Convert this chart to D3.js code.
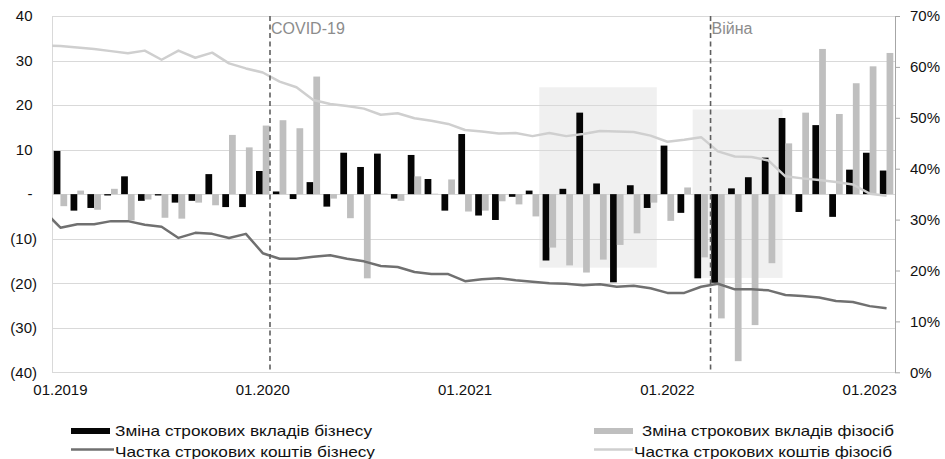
<!DOCTYPE html>
<html>
<head>
<meta charset="utf-8">
<script src="https://cdn.jsdelivr.net/npm/d3@7"></script>
<style>
  body { margin: 0; background: #fff; }
  svg { display: block; }
  text { font-family: "Liberation Sans", Arial, sans-serif; }
</style>
</head>
<body>
<svg id="chart" width="945" height="459"></svg>
<script>
// ---------------- DATA ----------------
const months = [
  "01.2019","02.2019","03.2019","04.2019","05.2019","06.2019","07.2019","08.2019","09.2019","10.2019","11.2019","12.2019",
  "01.2020","02.2020","03.2020","04.2020","05.2020","06.2020","07.2020","08.2020","09.2020","10.2020","11.2020","12.2020",
  "01.2021","02.2021","03.2021","04.2021","05.2021","06.2021","07.2021","08.2021","09.2021","10.2021","11.2021","12.2021",
  "01.2022","02.2022","03.2022","04.2022","05.2022","06.2022","07.2022","08.2022","09.2022","10.2022","11.2022","12.2022",
  "01.2023","02.2023"
];

// Зміна строкових вкладів бізнесу (left axis)
const bizChange = [
  9.7, -3.7, -3.1, -0.3, 4.0, -1.5, -0.3, -1.9, -1.5, 4.5, -2.9, -2.9,
  5.2, 0.6, -1.1, 2.7, -2.8, 9.3, 6.1, 9.1, -1.0, 8.8, 3.4, -3.7,
  13.5, -4.8, -5.8, -0.6, 0.8, -14.9, 1.2, 18.3, 2.4, -19.8, 2.0, -3.1,
  10.9, -4.2, -18.9, -19.9, 1.3, 3.8, 8.2, 17.1, -4.0, 15.5, -5.1, 5.5,
  9.3, 5.3
];

// Зміна строкових вкладів фізосіб (left axis)
const indChange = [
  -2.7, 0.8, -3.5, 1.2, -5.9, -1.2, -5.3, -5.5, -1.9, -2.5, 13.3, 10.5,
  15.4, 16.6, 14.8, 26.4, -1.0, -5.4, -18.9, 0.1, -1.5, 4.0, 0.1, 3.3,
  -3.9, -3.7, -1.6, -2.3, -5.0, -12.0, -16.0, -17.6, -14.7, -11.4, -8.8, -1.9,
  -6.0, 1.5, -14.2, -27.9, -37.5, -29.4, -15.5, 11.4, 18.3, 32.6, 18.0, 24.9,
  28.7, 31.7
];

// Shares (right axis, %) — first value is 12.2018 (partly outside plot)
const shareMonths = ["12.2018"].concat(months);
const bizShare = [
  31.8,
  28.4, 29.1, 29.1, 29.7, 29.7, 29.0, 28.6, 26.4, 27.4, 27.2, 26.4, 27.2,
  23.4, 22.3, 22.3, 22.7, 23.0, 22.3, 21.8, 20.9, 20.7, 19.7, 19.3, 19.3,
  17.9, 18.3, 18.5, 18.1, 17.8, 17.5, 17.4, 17.1, 17.3, 16.8, 17.0, 16.5,
  15.6, 15.6, 16.8, 17.4, 16.3, 16.3, 16.1, 15.2, 15.0, 14.7, 14.0, 13.8,
  13.0, 12.6
];
const indShare = [
  64.2,
  64.1, 63.8, 63.5, 63.1, 62.7, 63.2, 61.4, 63.2, 61.8, 62.8, 60.7, 59.7,
  58.9, 57.1, 56.0, 53.5, 52.7, 52.3, 51.8, 50.6, 50.9, 49.9, 49.4, 48.8,
  47.6, 47.3, 46.9, 47.0, 46.4, 47.0, 46.4, 46.8, 47.4, 47.3, 47.2, 46.5,
  45.3, 45.7, 46.2, 43.4, 42.4, 42.3, 41.6, 38.5, 38.1, 37.8, 37.4, 36.9,
  35.1, 34.7
];

const leftTicks = [40, 30, 20, 10, 0, -10, -20, -30, -40];
const leftTickLabels = ["40", "30", "20", "10", "-", "(10)", "(20)", "(30)", "(40)"];
const rightTicks = [0, 10, 20, 30, 40, 50, 60, 70];
const rightTickLabels = ["0%", "10%", "20%", "30%", "40%", "50%", "60%", "70%"];
const xTickMonths = ["01.2019", "01.2020", "01.2021", "01.2022", "01.2023"];

// annotations (month index units, left-axis units)
const eventNames = ["COVID-19", "Війна"];
const eventPos = [12.43, 38.56];
const shadeFrom = [28.40, 37.50];
const shadeTo = [35.37, 42.83];
const shadeTop = [24.0, 19.0];
const shadeBottom = [-16.5, -18.8];

const legendLabels = [
  "Зміна строкових вкладів бізнесу",
  "Зміна строкових вкладів фізосіб",
  "Частка строкових коштів бізнесу",
  "Частка строкових коштів фізосіб"
];

// ---------------- LAYOUT ----------------
const W = 945, H = 459;
const L = 52, R = 895, T = 16, B = 372.3;

const colBiz = "#050505", colInd = "#bfbfbf";
const colBizLine = "#707070", colIndLine = "#cfcfcf";

const svg = d3.select("#chart");

const x = d3.scaleBand().domain(months).range([L, R]).paddingInner(0.2).paddingOuter(0.1);
const xs = d3.scaleBand().domain(["biz", "ind"]).range([0, x.bandwidth()]);
const xi = d3.scaleLinear().domain([-0.5, months.length - 0.5]).range([L, R]);
const yL = d3.scaleLinear().domain([-40, 40]).range([B, T]);
const yR = d3.scaleLinear().domain([0, 70]).range([B, T]);

svg.append("defs").append("clipPath").attr("id", "plotclip")
  .append("rect").attr("x", L).attr("y", T).attr("width", R - L).attr("height", B - T);

// shaded periods
svg.append("g").selectAll("rect").data(shadeFrom).join("rect")
  .attr("x", (d, i) => xi(d))
  .attr("width", (d, i) => xi(shadeTo[i]) - xi(d))
  .attr("y", (d, i) => yL(shadeTop[i]))
  .attr("height", (d, i) => yL(shadeBottom[i]) - yL(shadeTop[i]))
  .attr("fill", "#f0f0f0");

// gridlines
svg.append("g").selectAll("line").data(leftTicks).join("line")
  .attr("x1", L).attr("x2", R)
  .attr("y1", d => Math.round(yL(d)) + 0.5).attr("y2", d => Math.round(yL(d)) + 0.5)
  .attr("stroke", "#d9d9d9").attr("stroke-width", 1);
svg.append("line").attr("x1", L + 0.5).attr("x2", L + 0.5).attr("y1", T).attr("y2", B)
  .attr("stroke", "#d9d9d9");

// bars
const barRows = months.map((m, i) => ({ m, biz: bizChange[i], ind: indChange[i] }));
const groups = svg.append("g").selectAll("g").data(barRows).join("g")
  .attr("transform", d => `translate(${x(d.m)},0)`);
groups.append("rect")
  .attr("x", xs("biz")).attr("width", xs.bandwidth())
  .attr("y", d => yL(Math.max(0, d.biz)))
  .attr("height", d => Math.abs(yL(d.biz) - yL(0)))
  .attr("fill", colBiz);
groups.append("rect")
  .attr("x", xs("ind")).attr("width", xs.bandwidth())
  .attr("y", d => yL(Math.max(0, d.ind)))
  .attr("height", d => Math.abs(yL(d.ind) - yL(0)))
  .attr("fill", colInd);

// lines
const line = d3.line().x((d, i) => xi(i - 1)).y(d => yR(d));
const lg = svg.append("g").attr("clip-path", "url(#plotclip)");
lg.append("path").datum(indShare).attr("d", line)
  .attr("fill", "none").attr("stroke", colIndLine).attr("stroke-width", 2.5).attr("stroke-linejoin", "round");
lg.append("path").datum(bizShare).attr("d", line)
  .attr("fill", "none").attr("stroke", colBizLine).attr("stroke-width", 2.5).attr("stroke-linejoin", "round");

// right axis
const axR = svg.append("g").attr("transform", `translate(${R},0)`)
  .call(d3.axisRight(yR).tickValues(rightTicks).tickFormat((d, i) => rightTickLabels[i])
    .tickSize(5).tickSizeOuter(0).tickPadding(10));
axR.select(".domain").attr("stroke", "#a6a6a6");
axR.selectAll(".tick line").attr("stroke", "#a6a6a6");
axR.selectAll("text").attr("font-size", 15).attr("fill", "#111").attr("font-family", "Liberation Sans, Arial, sans-serif");

// left axis
const axL = svg.append("g").attr("transform", `translate(${L},0)`)
  .call(d3.axisLeft(yL).tickValues(leftTicks).tickFormat((d, i) => leftTickLabels[i])
    .tickSize(0).tickPadding(15));
axL.select(".domain").remove();
axL.selectAll("text").attr("font-size", 15).attr("fill", "#111")
  .attr("font-family", "Liberation Sans, Arial, sans-serif")
  .attr("x", d => d >= 0 ? -19.5 : -15);

// bottom axis
const axB = svg.append("g").attr("transform", `translate(0,${B})`)
  .call(d3.axisBottom(x).tickValues(xTickMonths).tickSize(0).tickPadding(12));
axB.select(".domain").remove();
axB.selectAll("text").attr("font-size", 15).attr("fill", "#111")
  .attr("font-family", "Liberation Sans, Arial, sans-serif");

// event lines
const ev = svg.append("g");
ev.selectAll("line").data(eventPos).join("line")
  .attr("x1", d => xi(d)).attr("x2", d => xi(d))
  .attr("y1", T).attr("y2", B)
  .attr("stroke", "#5f5f5f").attr("stroke-width", 1.6).attr("stroke-dasharray", "5,3.5");
ev.selectAll("text").data(eventPos).join("text")
  .attr("x", d => xi(d) + 1).attr("y", 34)
  .attr("font-size", 16).attr("fill", "#8c8c8c")
  .text((d, i) => eventNames[i]);

// legend
const legX = [71, 594, 71, 594];
const legY = [431, 431, 449.5, 449.5];
const legBase = [436, 436, 456.5, 456.5];
const legTextX = [115, 642, 115, 634];
const legTextW = [257, 252, 260, 258];
const legKind = ["bar", "bar", "line", "line"];
const legCol = [colBiz, colInd, colBizLine, colIndLine];
const leg = svg.append("g");
legendLabels.forEach((lab, i) => {
  if (legKind[i] === "bar") {
    leg.append("rect").attr("x", legX[i]).attr("y", legY[i] - 3).attr("width", 39).attr("height", 6).attr("fill", legCol[i]);
  } else {
    leg.append("line").attr("x1", legX[i]).attr("x2", legTextX[i] - 1).attr("y1", legY[i]).attr("y2", legY[i])
      .attr("stroke", legCol[i]).attr("stroke-width", 2.5);
  }
  leg.append("text").attr("x", legTextX[i]).attr("y", legBase[i])
    .attr("font-size", 14.5).attr("fill", "#111")
    .attr("textLength", legTextW[i]).attr("lengthAdjust", "spacingAndGlyphs")
    .text(lab);
});
</script>
</body>
</html>
